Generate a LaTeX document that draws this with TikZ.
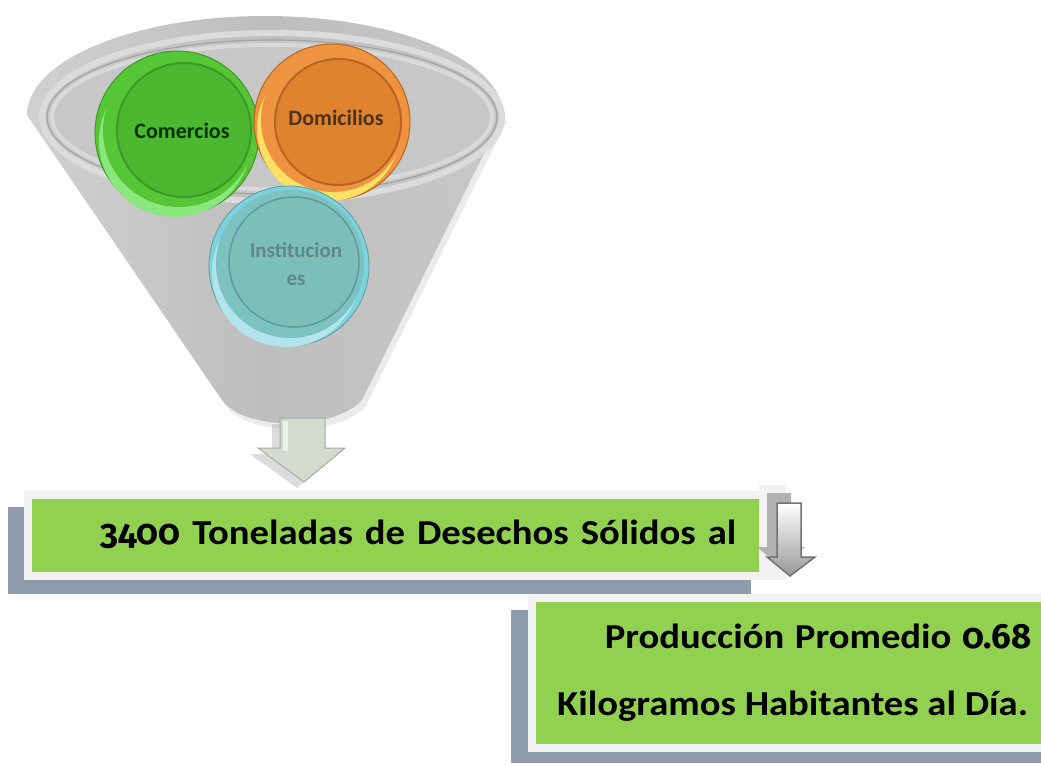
\documentclass[tikz,border=0pt]{standalone}
\usepackage{fontspec}
\setmainfont{Carlito}
\newfontfamily\oldnumfont{Fira Sans}[Numbers=OldStyle]
\newcommand{\onum}[1]{\scalebox{0.9}[1]{\oldnumfont #1}}
\definecolor{boxgreen}{HTML}{92D050}
\definecolor{boxframe}{HTML}{F2F2F2}
\definecolor{boxshadow}{HTML}{8E9BAB}
\definecolor{fgrayL}{HTML}{D0D0D0}
\definecolor{fgrayM}{HTML}{BEBEBE}
\definecolor{fgrayR}{HTML}{C8C8C8}
\definecolor{cgreen}{HTML}{56C536}
\definecolor{cgreenin}{HTML}{4CB832}
\definecolor{cgreenrim}{HTML}{3C9A26}
\definecolor{corange}{HTML}{EE9440}
\definecolor{corangein}{HTML}{E0832F}
\definecolor{corangerim}{HTML}{B86420}
\definecolor{cteal}{HTML}{7ED2DE}
\definecolor{ctealin}{HTML}{7CBFBA}
\definecolor{ctealrim}{HTML}{5E9C98}
\definecolor{ctealtext}{HTML}{5E8886}
\definecolor{arrowfill}{HTML}{D3DBCF}
\definecolor{arrowedge}{HTML}{A6AEA2}
\tikzset{
  boxtext/.style={inner sep=0pt, font=\fontsize{35}{40}\selectfont\bfseries},
  circtext/.style={inner sep=0pt, font=\fontsize{22}{26}\selectfont\bfseries, align=center},
}
\newcommand{\wide}[1]{\scalebox{1.104}[1]{#1}}
\begin{document}
\begin{tikzpicture}[x=1pt,y=-1pt]
\useasboundingbox (0,0) rectangle (1041,763);
\fill[white] (0,0) rectangle (1041,763);
% ---------- funnel ----------
\fill[black!25, opacity=0.3] (32,121) -- (226,406) .. controls (250,438) and (340,436) .. (366,406) -- (507,121) -- cycle;
\shade[left color=fgrayL, right color=fgrayR, middle color=fgrayM]
  (503,115) arc[start angle=0, end angle=180, x radius=238pt, y radius=99pt]
  -- (222,400) .. controls (245,432) and (335,430) .. (362,400) -- cycle;
\draw[white!86!black, line width=6pt] (272,117) ellipse[x radius=230pt, y radius=84pt];
\filldraw[fill=black!22, draw=black!36, line width=1.2pt] (272,117) ellipse[x radius=225pt, y radius=77pt];
\draw[black!15, line width=4pt] (272,117) ellipse[x radius=220pt, y radius=72pt];
% ---------- circles ----------
% Comercios
\filldraw[fill=cgreen, draw=cgreenrim, line width=1pt] (177,133) circle[radius=82pt];
\fill[green!30!cgreen!60!white] (175,141) circle[radius=76pt];
\fill[cgreen] (179,131) circle[radius=76pt];
\draw[cgreenrim, line width=2pt, fill=cgreenin] (184,130) circle[radius=67pt];
\node[circtext, text=green!20!black] (com) at (182,131) {Comercios};
% Domicilios
\filldraw[fill=corange, draw=corangerim, line width=1pt] (332,122) circle[radius=78pt];
\fill[orange!40!yellow!60!white] (329,129) circle[radius=72pt];
\fill[corange] (333,120) circle[radius=72pt];
\draw[corangerim, line width=2pt, fill=corangein] (338,122) circle[radius=63pt];
\node[circtext, text=brown!40!black] (dom) at (336,118) {Domicilios};
% Instituciones
\filldraw[fill=cteal, draw=ctealrim, line width=0.8pt] (289,266) circle[radius=80pt];
\fill[cteal!60!white] (286,273) circle[radius=74pt];
\fill[ctealin!85!cteal] (290,264) circle[radius=74pt];
\draw[ctealrim, line width=1.5pt, fill=ctealin] (294,262) circle[radius=65pt];
\node[circtext, text=ctealtext, font=\fontsize{21}{28}\selectfont\bfseries] (ins) at (296,264) {Institucion\\es};
% ---------- big arrow ----------
\fill[black!30, opacity=0.45] (272,424) -- (317,424) -- (317,454) -- (337,454) -- (297,488) -- (250,454) -- (272,454) -- cycle;
\filldraw[fill=arrowfill, draw=arrowedge, line width=1pt]
  (280,418) -- (325,418) -- (325,448) -- (345,448) -- (304,482) -- (258,448) -- (280,448) -- cycle;
\fill[white, opacity=0.6] (283,421) -- (288,421) -- (288,451) -- (283,451) -- cycle;
% ---------- box 1 ----------
\fill[boxshadow] (8,507) rectangle (751,594);
\fill[boxframe] (24,491) rectangle (767,580);
\fill[boxframe] (759,485) rectangle (786,580);
\fill[boxgreen] (32,499) rectangle (759,572);
\node[boxtext, anchor=base west] (t1) at (100,544) {\wide{\spaceskip=0.31em\onum{3400} Toneladas de Desechos Sólidos al}};
% ---------- small arrow ----------
\fill[black!30] (767,493) -- (791,493) -- (791,547) -- (805,547) -- (780,566) -- (757,547) -- (767,547) -- cycle;
\shade[top color=white, bottom color=black!40, draw=black!55, line width=1.5pt]
  (777,503) -- (801,503) -- (801,557) -- (815,557) -- (790,576) -- (767,557) -- (777,557) -- cycle;
% ---------- box 2 ----------
\fill[boxshadow] (511,610) rectangle (1041,763);
\fill[boxframe] (528,594) rectangle (1041,752);
\fill[boxgreen] (536,602) rectangle (1041,744);
\node[boxtext, anchor=base east] (t2) at (1032,648) {\wide{Producción\hspace{0.05em} Promedio\hspace{0.05em} \onum{0.68}}};
\node[boxtext, anchor=base west] (t3) at (557,715) {\wide{Kilogramos Habitantes al Día.}};
\end{tikzpicture}
\end{document}
